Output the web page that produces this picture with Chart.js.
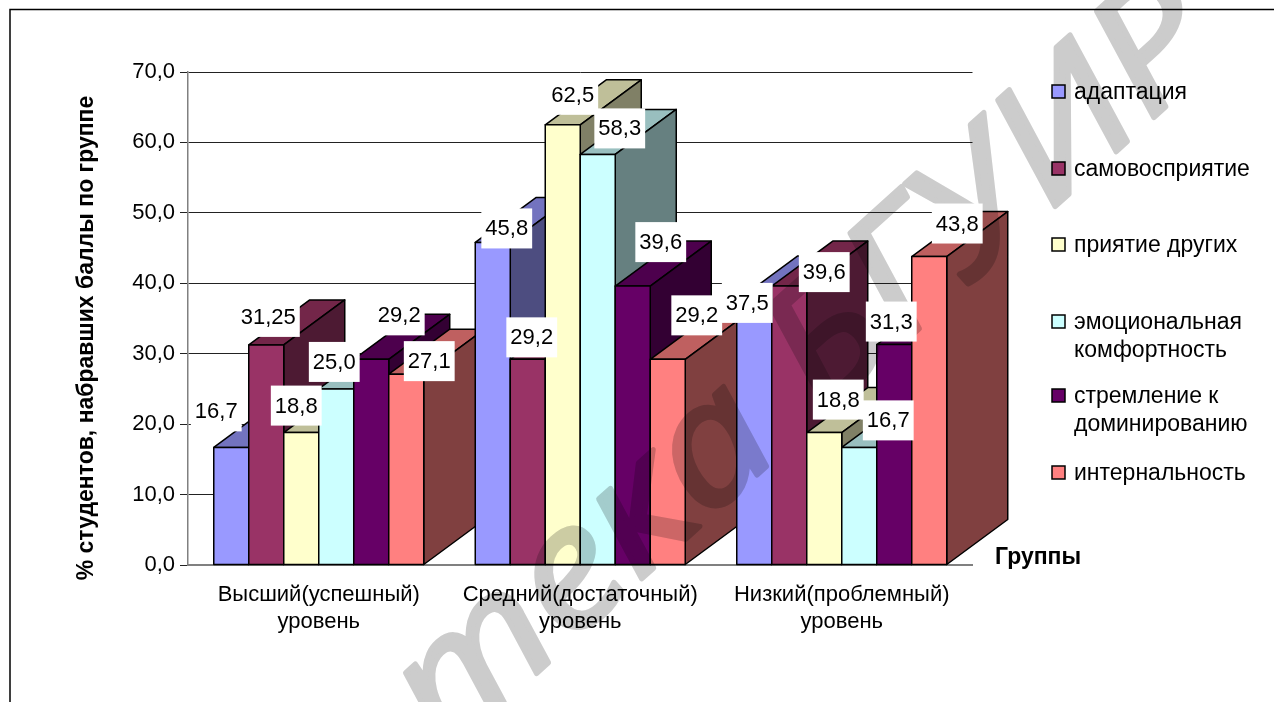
<!DOCTYPE html>
<html>
<head>
<meta charset="utf-8">
<style>
  html, body { margin: 0; padding: 0; background: #fff; overflow: hidden; }
  canvas { display: block; }
</style>
<script src="https://cdn.jsdelivr.net/npm/chart.js@4"></script>
</head>
<body>
<canvas id="chart" width="1274" height="702"></canvas>
<script>
const groups = [
    ['Высший(успешный)', 'уровень'],
    ['Средний(достаточный)', 'уровень'],
    ['Низкий(проблемный)', 'уровень']
];
const seriesNames = ['адаптация', 'самовосприятие', 'приятие других',
    'эмоциональная\nкомфортность', 'стремление к\nдоминированию', 'интернальность'];

const adaptation = [16.7, 45.8, 37.5];
const selfPerception = [31.25, 29.2, 39.6];
const acceptance = [18.8, 62.5, 18.8];
const comfort = [25.0, 58.3, 16.7];
const dominance = [29.2, 39.6, 31.3];
const internality = [27.1, 29.2, 43.8];

const valueTexts = [
    ['16,7', '45,8', '37,5'],
    ['31,25', '29,2', '39,6'],
    ['18,8', '62,5', '18,8'],
    ['25,0', '58,3', '16,7'],
    ['29,2', '39,6', '31,3'],
    ['27,1', '29,2', '43,8']
];

const allSeries = [adaptation, selfPerception, acceptance, comfort, dominance, internality];
const frontColors = ['#9999FF', '#993366', '#FFFFCC', '#CCFFFF', '#660066', '#FF8080'];
const topColors = ['#7373BF', '#732649', '#BFBF99', '#99BFBF', '#4D004D', '#BF6060'];
const sideColors = ['#4D4D80', '#4D1A33', '#808066', '#668080', '#330033', '#804040'];

// labels were moved by hand in the original, offset from the top of each bar
const labelOffsets = [
    [[-15, -36], [14, -14], [-7, 2]],
    [[2, -28], [4, -22], [35, -14]],
    [[-5, -27], [10, -30], [14, -33]],
    [[-2, -27], [22, -26], [29, -27]],
    [[28, -44], [28, -44], [-3, -23]],
    [[23, -13], [29, -44], [28, -33]]
];
const legendRows = [[92], [169], [245], [322, 350], [396, 424], [473]];

const depthX = 61;
const depthY = 45;
const fontName = '"Liberation Sans", Arial, sans-serif';

function poly(ctx, pts, fill) {
    ctx.beginPath();
    pts.forEach((p, i) => i ? ctx.lineTo(p[0], p[1]) : ctx.moveTo(p[0], p[1]));
    ctx.closePath();
    ctx.fillStyle = fill;
    ctx.fill();
    ctx.stroke();
}

// drawn on its own layer first so fill and stroke don't darken each other when multiplied
function drawWatermark(ctx) {
    const layer = document.createElement('canvas');
    layer.width = 1274;
    layer.height = 702;
    const w = layer.getContext('2d');
    w.fillStyle = '#CCCCCC';
    w.strokeStyle = '#CCCCCC';
    w.lineWidth = 5;
    w.lineJoin = 'round';
    w.font = 'italic 165px "Open Sans", "Noto Sans", sans-serif';
    w.textAlign = 'right';
    w.textBaseline = 'alphabetic';
    w.translate(1228, 51);
    w.rotate(-42 * Math.PI / 180);
    w.scale(1.15, 1);
    w.fillText('Библиотека БГУИР', 0, 0);
    w.strokeText('Библиотека БГУИР', 0, 0);
    ctx.save();
    ctx.globalCompositeOperation = 'multiply';
    ctx.drawImage(layer, 0, 0);
    ctx.restore();
}

// Excel style 3d columns, painted left to right so the next bar covers the side of the last
const columns3d = {
    id: 'columns3d',
    beforeDatasetsDraw(chart) {
        const ctx = chart.ctx;
        ctx.save();
        ctx.strokeStyle = '#000';
        ctx.lineWidth = 1.5;
        ctx.lineJoin = 'round';
        groups.forEach((g, gi) => {
            allSeries.forEach((s, si) => {
                const bar = chart.getDatasetMeta(si).data[gi];
                const l = bar.x - bar.width / 2;
                const r = bar.x + bar.width / 2;
                const t = bar.y;
                const b = bar.base;
                poly(ctx, [[l, t], [l + depthX, t - depthY], [r + depthX, t - depthY], [r, t]], topColors[si]);
                poly(ctx, [[r, t], [r + depthX, t - depthY], [r + depthX, b - depthY], [r, b]], sideColors[si]);
                poly(ctx, [[l, t], [r, t], [r, b], [l, b]], frontColors[si]);
            });
        });
        ctx.restore();

        // watermark sits over the bars but under the label boxes
        drawWatermark(ctx);
        return false;
    }
};

const extras = {
    id: 'extras',
    afterDraw(chart) {
        const ctx = chart.ctx;
        ctx.save();

        // value labels
        ctx.font = '22px ' + fontName;
        ctx.textAlign = 'center';
        ctx.textBaseline = 'middle';
        allSeries.forEach((s, si) => {
            s.forEach((v, gi) => {
                const bar = chart.getDatasetMeta(si).data[gi];
                const txt = valueTexts[si][gi];
                const cx = bar.x + labelOffsets[si][gi][0];
                const cy = bar.y + labelOffsets[si][gi][1];
                const w = ctx.measureText(txt).width + 8;
                ctx.fillStyle = '#fff';
                ctx.fillRect(cx - w / 2, cy - 20, w, 40);
                ctx.fillStyle = '#000';
                ctx.fillText(txt, cx, cy + 1);
            });
        });

        // legend
        ctx.font = '23px ' + fontName;
        ctx.textAlign = 'left';
        seriesNames.forEach((name, i) => {
            const rows = legendRows[i];
            ctx.fillStyle = frontColors[i];
            ctx.strokeStyle = '#000';
            ctx.lineWidth = 1.5;
            ctx.fillRect(1052, rows[0] - 7, 13, 13);
            ctx.strokeRect(1052, rows[0] - 7, 13, 13);
            ctx.fillStyle = '#000';
            name.split('\n').forEach((line, j) => ctx.fillText(line, 1074, rows[j] + 1));
        });

        // axis titles
        ctx.font = 'bold 23px ' + fontName;
        ctx.fillText('Группы', 995, 558);
        ctx.translate(87, 338);
        ctx.rotate(-Math.PI / 2);
        ctx.textAlign = 'center';
        ctx.fillText('% студентов, набравших баллы по группе', 0, 0);
        ctx.restore();

        // frame, open at the bottom and right
        ctx.save();
        ctx.strokeStyle = '#000';
        ctx.lineWidth = 1.5;
        ctx.beginPath();
        ctx.moveTo(10, 720);
        ctx.lineTo(10, 9.5);
        ctx.lineTo(1274, 9.5);
        ctx.stroke();
        ctx.restore();
    }
};

new Chart(document.getElementById('chart'), {
    type: 'bar',
    data: {
        labels: groups,
        datasets: allSeries.map((s, i) => ({
            label: seriesNames[i],
            data: s,
            backgroundColor: frontColors[i],
            categoryPercentage: 0.803,
            barPercentage: 1
        }))
    },
    plugins: [columns3d, extras],
    options: {
        responsive: false,
        animation: false,
        events: [],
        layout: { padding: { left: 0, right: 301.5, top: 72, bottom: 0 } },
        plugins: { legend: { display: false }, tooltip: { enabled: false } },
        scales: {
            x: {
                afterFit(scale) { scale.height = 137; },
                grid: { display: false },
                border: { color: '#808080', width: 2 },
                ticks: {
                    color: '#000',
                    maxRotation: 0,
                    autoSkip: false,
                    padding: 8,
                    font: { family: fontName, size: 22, lineHeight: 1.23 }
                }
            },
            y: {
                min: 0,
                max: 70,
                afterFit(scale) { scale.width = 188; },
                grid: { color: '#222', lineWidth: 1, tickLength: 8 },
                border: { color: '#808080', width: 1.5 },
                ticks: {
                    stepSize: 10,
                    color: '#000',
                    padding: 5,
                    font: { family: fontName, size: 22 },
                    callback: v => v.toFixed(1).replace('.', ',')
                }
            }
        }
    }
});
</script>
</body>
</html>
